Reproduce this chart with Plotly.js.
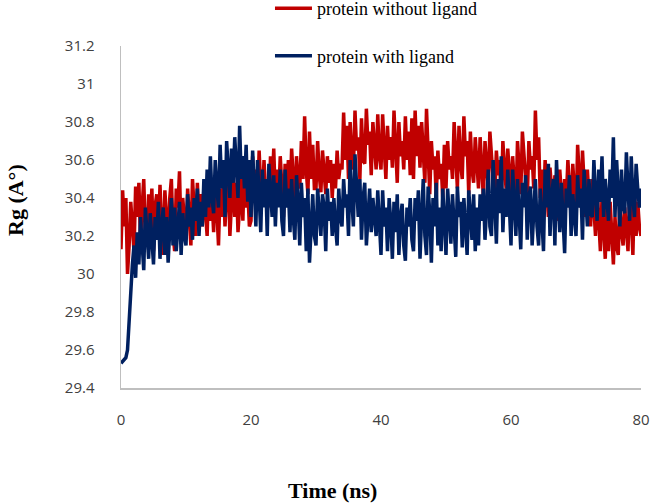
<!DOCTYPE html>
<html>
<head>
<meta charset="utf-8">
<script src="https://cdn.plot.ly/plotly-3.0.1.min.js"></script>
<style>
  html, body { margin: 0; padding: 0; background: white; }
  #chart { width: 653px; height: 503px; }
</style>
</head>
<body>
<div id="chart"></div>
<script>
// Rg over time, every 0.25 ns (one row = 5 ns)

const timeStep = 0.25;   // ns between samples

const rgWithout = [
    30.13, 30.44, 30.25, 30.40, 30.00, 30.15, 30.38, 30.22, 30.12, 30.46, 30.30, 30.48, 30.18, 30.35, 30.50, 30.20, 30.15, 30.42, 30.28, 30.45,
    30.12, 30.36, 30.42, 30.20, 30.47, 30.25, 30.10, 30.44, 30.30, 30.15, 30.40, 30.50, 30.22, 30.12, 30.45, 30.35, 30.54, 30.18, 30.40, 30.25,
    30.18, 30.45, 30.30, 30.15, 30.50, 30.38, 30.20, 30.48, 30.26, 30.42, 30.25, 30.45, 30.32, 30.20, 30.50, 30.28, 30.40, 30.22, 30.52, 30.30,
    30.15, 30.45, 30.30, 30.50, 30.25, 30.42, 30.55, 30.20, 30.38, 30.55, 30.30, 30.48, 30.22, 30.40, 30.50, 30.28, 30.60, 30.35, 30.45, 30.25,
    30.28, 30.62, 30.40, 30.55, 30.35, 30.65, 30.45, 30.38, 30.60, 30.42, 30.50, 30.35, 30.62, 30.45, 30.66, 30.38, 30.55, 30.40, 30.62, 30.46,
    30.30, 30.58, 30.42, 30.60, 30.38, 30.66, 30.45, 30.35, 30.62, 30.48, 30.45, 30.70, 30.50, 30.83, 30.55, 30.42, 30.75, 30.50, 30.68, 30.45,
    30.45, 30.70, 30.52, 30.43, 30.65, 30.55, 30.42, 30.62, 30.48, 30.60, 30.40, 30.58, 30.45, 30.65, 30.50, 30.58, 30.55, 30.85, 30.60, 30.78,
    30.50, 30.80, 30.62, 30.55, 30.86, 30.65, 30.72, 30.50, 30.82, 30.60, 30.58, 30.87, 30.68, 30.75, 30.52, 30.80, 30.65, 30.55, 30.84, 30.62,
    30.55, 30.84, 30.66, 30.50, 30.78, 30.60, 30.72, 30.56, 30.86, 30.65, 30.48, 30.80, 30.62, 30.70, 30.55, 30.83, 30.60, 30.75, 30.52, 30.82,
    30.50, 30.86, 30.62, 30.78, 30.56, 30.80, 30.65, 30.48, 30.87, 30.60, 30.42, 30.70, 30.55, 30.62, 30.40, 30.65, 30.50, 30.58, 30.40, 30.68,
    30.45, 30.70, 30.55, 30.62, 30.50, 30.80, 30.60, 30.45, 30.78, 30.58, 30.50, 30.83, 30.62, 30.70, 30.42, 30.75, 30.55, 30.48, 30.72, 30.60,
    30.45, 30.72, 30.58, 30.40, 30.70, 30.55, 30.45, 30.75, 30.60, 30.50, 30.40, 30.65, 30.52, 30.60, 30.38, 30.70, 30.55, 30.45, 30.66, 30.50,
    30.40, 30.62, 30.50, 30.35, 30.70, 30.55, 30.42, 30.75, 30.60, 30.48, 30.38, 30.70, 30.55, 30.62, 30.45, 30.86, 30.60, 30.72, 30.40, 30.55,
    30.35, 30.60, 30.45, 30.30, 30.56, 30.42, 30.32, 30.52, 30.40, 30.28, 30.55, 30.45, 30.30, 30.50, 30.38, 30.60, 30.42, 30.30, 30.58, 30.45,
    30.30, 30.68, 30.50, 30.35, 30.65, 30.45, 30.30, 30.55, 30.40, 30.25, 30.50, 30.38, 30.20, 30.45, 30.32, 30.12, 30.40, 30.25, 30.08, 30.35,
    30.12, 30.38, 30.20, 30.05, 30.30, 30.15, 30.10, 30.40, 30.22, 30.15, 30.35, 30.25, 30.12, 30.42, 30.30, 30.10, 30.45, 30.20, 30.38, 30.25,
    30.20
];

const rgWith = [
    29.53, 29.54, 29.55, 29.56, 29.60, 29.75, 29.95, 30.05, 30.15, 29.98, 30.22, 30.05, 30.30, 30.12, 30.02, 30.35, 30.20, 30.08, 30.32, 30.15,
    30.05, 30.30, 30.18, 30.38, 30.08, 30.25, 30.35, 30.10, 30.30, 30.06, 30.22, 30.40, 30.15, 30.35, 30.12, 30.28, 30.38, 30.10, 30.32, 30.20,
    30.15, 30.42, 30.25, 30.35, 30.18, 30.40, 30.28, 30.45, 30.20, 30.38, 30.25, 30.50, 30.30, 30.55, 30.35, 30.62, 30.40, 30.32, 30.60, 30.45,
    30.35, 30.68, 30.45, 30.60, 30.30, 30.70, 30.50, 30.40, 30.66, 30.48, 30.72, 30.55, 30.40, 30.78, 30.50, 30.62, 30.45, 30.68, 30.38, 30.60,
    30.30, 30.65, 30.45, 30.25, 30.60, 30.40, 30.22, 30.55, 30.35, 30.50, 30.20, 30.58, 30.40, 30.30, 30.52, 30.25, 30.48, 30.35, 30.55, 30.28,
    30.20, 30.55, 30.35, 30.45, 30.22, 30.50, 30.30, 30.18, 30.52, 30.38, 30.15, 30.48, 30.30, 30.40, 30.12, 30.45, 30.06, 30.30, 30.42, 30.20,
    30.15, 30.45, 30.30, 30.20, 30.42, 30.35, 30.12, 30.45, 30.28, 30.38, 30.20, 30.40, 30.25, 30.15, 30.45, 30.30, 30.25, 30.50, 30.35, 30.42,
    30.20, 30.60, 30.40, 30.25, 30.63, 30.45, 30.30, 30.50, 30.18, 30.40, 30.48, 30.15, 30.35, 30.45, 30.22, 30.40, 30.30, 30.20, 30.44, 30.28,
    30.10, 30.44, 30.25, 30.35, 30.12, 30.40, 30.28, 30.08, 30.38, 30.22, 30.42, 30.10, 30.30, 30.37, 30.15, 30.07, 30.35, 30.25, 30.40, 30.18,
    30.12, 30.40, 30.28, 30.44, 30.08, 30.30, 30.50, 30.20, 30.10, 30.46, 30.32, 30.06, 30.40, 30.25, 30.48, 30.15, 30.35, 30.12, 30.45, 30.28,
    30.10, 30.45, 30.30, 30.16, 30.42, 30.25, 30.09, 30.46, 30.30, 30.38, 30.14, 30.40, 30.22, 30.10, 30.44, 30.30, 30.18, 30.42, 30.12, 30.35,
    30.15, 30.42, 30.28, 30.45, 30.18, 30.35, 30.55, 30.25, 30.20, 30.60, 30.40, 30.16, 30.50, 30.32, 30.62, 30.22, 30.45, 30.30, 30.55, 30.35,
    30.15, 30.55, 30.35, 30.20, 30.50, 30.30, 30.13, 30.48, 30.35, 30.52, 30.18, 30.40, 30.46, 30.15, 30.35, 30.50, 30.25, 30.15, 30.45, 30.30,
    30.12, 30.55, 30.35, 30.58, 30.20, 30.40, 30.50, 30.15, 30.60, 30.38, 30.22, 30.48, 30.30, 30.11, 30.45, 30.35, 30.52, 30.20, 30.42, 30.30,
    30.20, 30.52, 30.35, 30.45, 30.18, 30.55, 30.40, 30.25, 30.50, 30.32, 30.30, 30.60, 30.42, 30.28, 30.55, 30.38, 30.62, 30.30, 30.50, 30.40,
    30.28, 30.55, 30.40, 30.72, 30.30, 30.60, 30.45, 30.25, 30.55, 30.35, 30.32, 30.64, 30.45, 30.28, 30.62, 30.40, 30.30, 30.58, 30.45, 30.35,
    30.45
];

const seriesNames = ['protein without ligand', 'protein with ligand'];
const xTicks = [0, 20, 40, 60, 80];

const timeNs = rgWithout.map((_, i) => i * timeStep);

const traces = [
    {
        x: timeNs,
        y: rgWithout,
        name: seriesNames[0],
        type: 'scatter',
        mode: 'lines',
        line: {color: '#C00000', width: 3.5},
        legendgroup: 'a'
    },
    {
        x: timeNs,
        y: rgWith,
        name: seriesNames[1],
        type: 'scatter',
        mode: 'lines',
        line: {color: '#002060', width: 3.5},
        legendgroup: 'b'
    }
];

const serif = 'Liberation Serif, Times New Roman, serif';

const layout = {
    width: 653,
    height: 503,
    // plot box is fixed; the legend sits above it without pushing it down
    margin: {l: 121, r: 12, t: 46, b: 115, autoexpand: false},
    paper_bgcolor: 'white',
    plot_bgcolor: 'white',
    font: {family: 'Open Sans, sans-serif', size: 15, color: '#404040'},
    showlegend: true,
    legend: {
        x: 0.2865,
        y: 1.1636,
        xanchor: 'left',
        yanchor: 'top',
        traceorder: 'grouped',
        tracegroupgap: 21,
        itemwidth: 37,
        font: {family: serif, size: 18, color: '#000000'},
        bgcolor: 'rgba(0,0,0,0)'
    },
    xaxis: {
        range: [0, 80],
        tickvals: xTicks,
        showgrid: false,
        zeroline: false,
        showline: true,
        linecolor: '#BFBFBF',
        linewidth: 1.5,
        ticks: 'outside',
        ticklen: 17,
        tickcolor: 'rgba(0,0,0,0)'
    },
    yaxis: {
        range: [29.4, 31.2],
        dtick: 0.2,
        tick0: 29.4,
        showgrid: false,
        zeroline: false,
        showline: true,
        linecolor: '#BFBFBF',
        linewidth: 1.5,
        ticks: 'outside',
        ticklen: 22,
        tickcolor: 'rgba(0,0,0,0)'
    },
    annotations: [
        {
            text: '<b>Time (ns)</b>',
            xref: 'paper', yref: 'paper',
            x: (332 - 121) / 520, y: -(490 - 388) / 342,
            xanchor: 'center', yanchor: 'middle',
            showarrow: false,
            font: {family: serif, size: 22, color: '#000000'}
        },
        {
            text: '<b>Rg (A°)</b>',
            xref: 'paper', yref: 'paper',
            x: -(121 - 15) / 520, y: (388 - 200) / 342,
            xanchor: 'center', yanchor: 'middle',
            textangle: -90,
            showarrow: false,
            font: {family: serif, size: 22, color: '#000000'}
        }
    ]
};

Plotly.newPlot('chart', traces, layout, {displayModeBar: false, staticPlot: true});
</script>
</body>
</html>
